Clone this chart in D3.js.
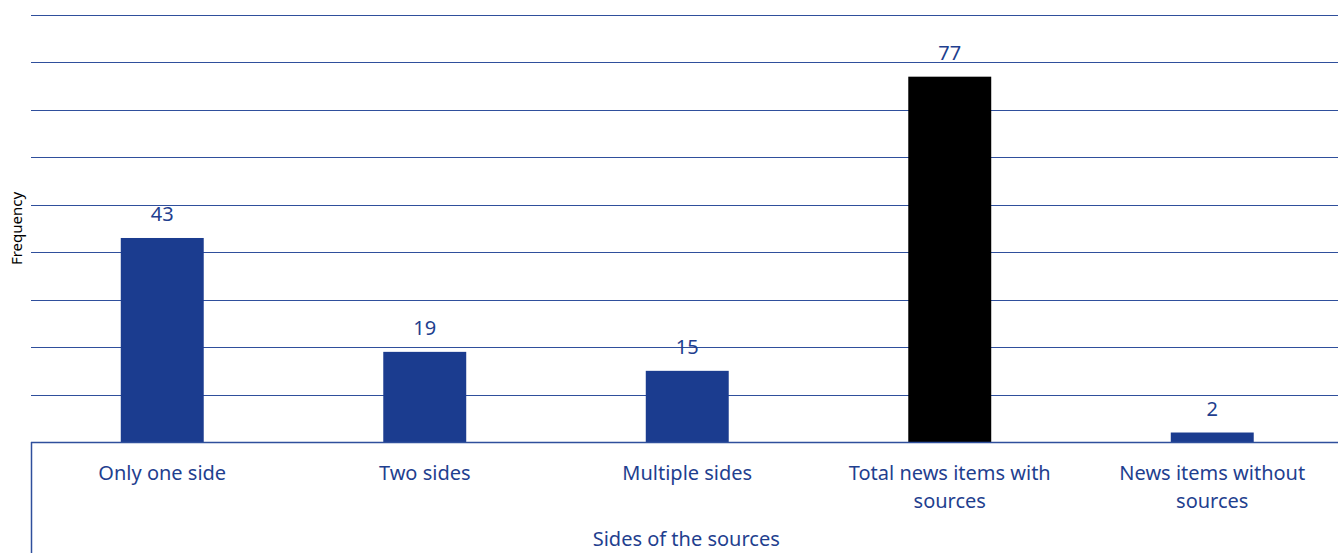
<!DOCTYPE html>
<html>
<head>
<meta charset="utf-8">
<script src="https://cdn.jsdelivr.net/npm/d3@7"></script>
<style>
  body { margin: 0; background: #fff; overflow: hidden; }
  text { font-family: "Noto Sans", sans-serif; }
</style>
</head>
<body>
<svg id="chart" width="1338" height="553"></svg>
<script>
// data
const categories = [
  ['Only one side'],
  ['Two sides'],
  ['Multiple sides'],
  ['Total news items with', 'sources'],
  ['News items without', 'sources']
];
const values = [43, 19, 15, 77, 2];
const barColors = ['#1b3c8f', '#1b3c8f', '#1b3c8f', '#000000', '#1b3c8f'];
const yTicks = [0, 10, 20, 30, 40, 50, 60, 70, 80, 90];

const blue = '#1f3f8f';
const plot = {left: 31, right: 1343.5, top: 15, bottom: 442};

const svg = d3.select('#chart');

const xScale = d3.scaleBand()
  .domain(d3.range(values.length))
  .range([plot.left, plot.right])
  .paddingInner(0.684)
  .paddingOuter(0.342);

const yScale = d3.scaleLinear()
  .domain([0, 90])
  .range([plot.bottom, plot.top]);

// gridlines
svg.selectAll('.grid').data(yTicks).enter().append('line')
  .attr('class', 'grid')
  .attr('x1', plot.left)
  .attr('x2', 1338)
  .attr('y1', d => Math.round(yScale(d)) + 0.5)
  .attr('y2', d => Math.round(yScale(d)) + 0.5)
  .attr('stroke', '#2f4f9c')
  .attr('stroke-width', 1.2);

// bars
svg.selectAll('.bar').data(values).enter().append('rect')
  .attr('class', 'bar')
  .attr('x', (d, i) => xScale(i))
  .attr('y', d => yScale(d))
  .attr('width', xScale.bandwidth())
  .attr('height', d => plot.bottom - yScale(d))
  .attr('fill', (d, i) => barColors[i]);

// value labels
svg.selectAll('.val').data(values).enter().append('text')
  .attr('class', 'val')
  .attr('x', (d, i) => xScale(i) + xScale.bandwidth() / 2)
  .attr('y', d => yScale(d) - 17)
  .attr('text-anchor', 'middle')
  .attr('fill', blue)
  .style('font-size', '20px')
  .text(d => d);

// baseline + left axis line below it
svg.append('line')
  .attr('x1', plot.left).attr('x2', 1338)
  .attr('y1', plot.bottom + 0.5).attr('y2', plot.bottom + 0.5)
  .attr('stroke', '#2f4f9c').attr('stroke-width', 1.5);
svg.append('line')
  .attr('x1', plot.left + 0.5).attr('x2', plot.left + 0.5)
  .attr('y1', plot.bottom).attr('y2', 553)
  .attr('stroke', '#2f4f9c').attr('stroke-width', 1.5);

// category labels, one text per line
const catLines = [];
categories.forEach((lines, i) => lines.forEach((t, j) => catLines.push({i, j, t})));
svg.selectAll('.cat').data(catLines).enter().append('text')
  .attr('class', 'cat')
  .attr('x', d => xScale(d.i) + xScale.bandwidth() / 2)
  .attr('y', d => plot.bottom + 38 + d.j * 28)
  .attr('text-anchor', 'middle')
  .attr('fill', blue)
  .style('font-size', '20px')
  .text(d => d.t);

// axis titles
svg.append('text')
  .attr('x', (plot.left + plot.right) / 2 - 1)
  .attr('y', 546)
  .attr('text-anchor', 'middle')
  .attr('fill', blue)
  .style('font-size', '20px')
  .text('Sides of the sources');

svg.append('text')
  .attr('transform', `translate(22,${(plot.top + plot.bottom) / 2}) rotate(-90)`)
  .attr('text-anchor', 'middle')
  .attr('fill', '#000')
  .style('font-size', '15px')
  .text('Frequency');
</script>
</body>
</html>
